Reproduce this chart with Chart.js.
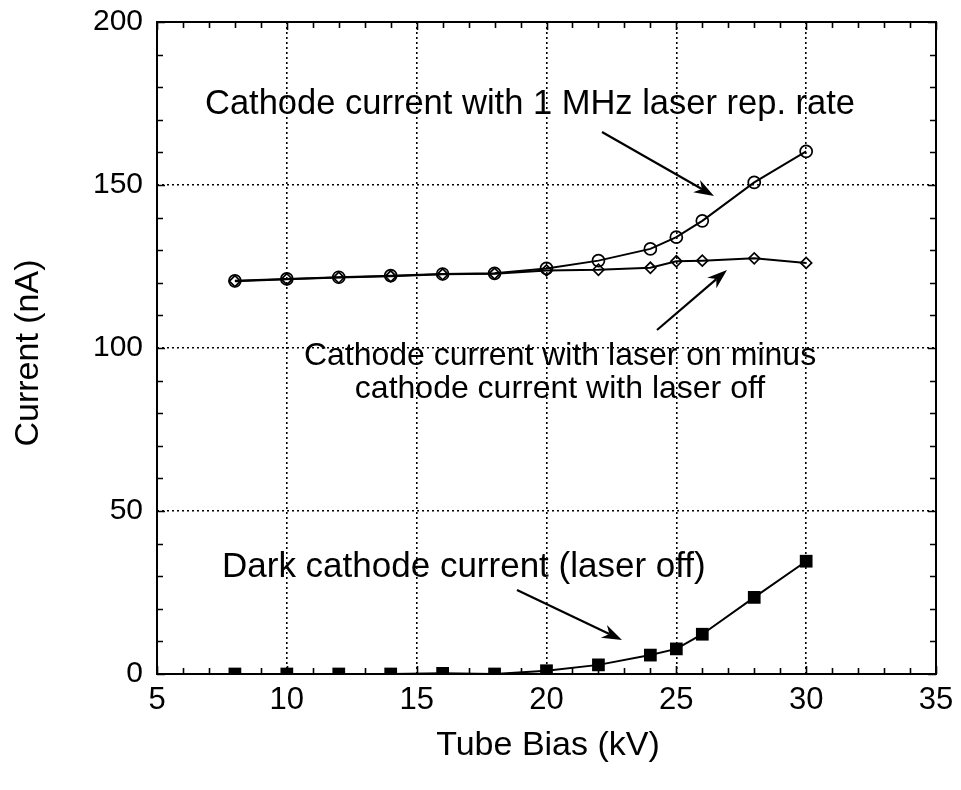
<!DOCTYPE html>
<html>
<head>
<meta charset="utf-8">
<script src="https://cdn.jsdelivr.net/npm/chart.js@4/dist/chart.umd.min.js"></script>
<style>
  html, body { margin: 0; padding: 0; background: #fff; }
  #wrap { width: 961px; height: 790px; position: relative; }
</style>
</head>
<body>
<div id="wrap"><canvas id="c" width="961" height="790" style="width:961px;height:790px"></canvas></div>
<script>
// ---- Data ----
const tubeBias = [8, 10, 12, 14, 16, 18, 20, 22, 24, 25, 26, 28, 30];
const current1MHz = [120.6, 121.2, 121.7, 122.2, 122.7, 122.9, 124.4, 126.8, 130.4, 134.0, 139.0, 150.8, 160.3];
const currentOnMinusOff = [120.5, 121.1, 121.6, 122.0, 122.6, 122.8, 123.8, 124.0, 124.6, 126.6, 126.8, 127.5, 126.1];
const darkCurrent = [0, 0, 0, 0, 0.2, 0, 1.0, 2.8, 5.8, 7.7, 12.2, 23.5, 34.6];
const xTickLabels = ['5', '10', '15', '20', '25', '30', '35'];
const yTickLabels = ['0', '50', '100', '150', '200'];
const xTitle = 'Tube Bias (kV)';
const yTitle = 'Current (nA)';
const notes = [
  'Cathode current with 1 MHz laser rep. rate',
  'Cathode current with laser on minus',
  'cathode current with laser off',
  'Dark cathode current (laser off)'
];

const FONT = '"Liberation Sans", Arial, Helvetica, sans-serif';
const pts = (ys) => tubeBias.map((x, i) => ({ x: x, y: ys[i] }));

// Frame, inward ticks, axis titles and annotations
const decor = {
  id: 'decor',
  beforeDatasetsDraw(chart) {
    const { ctx, chartArea: a, scales: { x, y } } = chart;
    ctx.save();
    ctx.strokeStyle = '#000';
    ctx.lineWidth = 1.6;
    ctx.beginPath();
    for (let v = 5; v <= 35; v += 1) {
      const px = Math.round(x.getPixelForValue(v)) + 0.5;
      const len = (v % 5 === 0) ? 8 : 6;
      ctx.moveTo(px, a.bottom); ctx.lineTo(px, a.bottom - len);
      ctx.moveTo(px, a.top); ctx.lineTo(px, a.top + len);
    }
    for (let v = 0; v <= 200; v += 10) {
      const py = Math.round(y.getPixelForValue(v)) + 0.5;
      const len = (v % 50 === 0) ? 8 : 6;
      ctx.moveTo(a.left, py); ctx.lineTo(a.left + len, py);
      ctx.moveTo(a.right, py); ctx.lineTo(a.right - len, py);
    }
    ctx.stroke();
    ctx.lineWidth = 2;
    ctx.strokeRect(a.left, a.top, a.right - a.left, a.bottom - a.top);
    ctx.restore();
  },
  afterDraw(chart) {
    const { ctx } = chart;
    ctx.save();
    ctx.fillStyle = '#000';
    ctx.font = '34px ' + FONT;
    ctx.textBaseline = 'middle';
    ctx.textAlign = 'center';
    ctx.fillText(xTitle, 548, 746);
    ctx.save();
    ctx.translate(29, 353);
    ctx.rotate(-Math.PI / 2);
    ctx.fillText(yTitle, 0, 0);
    ctx.restore();
    ctx.textAlign = 'left';
    ctx.font = '34.5px ' + FONT;
    ctx.fillText(notes[0], 205, 104);
    ctx.textAlign = 'center';
    ctx.font = '32px ' + FONT;
    ctx.fillText(notes[1], 560, 356);
    ctx.fillText(notes[2], 560, 389);
    ctx.textAlign = 'left';
    ctx.font = '35px ' + FONT;
    ctx.fillText(notes[3], 222, 567);
    const arrow = (x1, y1, x2, y2) => {
      const ang = Math.atan2(y2 - y1, x2 - x1);
      const L = 20, W = 7, notch = 6;
      ctx.lineWidth = 2.2;
      ctx.beginPath();
      ctx.moveTo(x1, y1);
      ctx.lineTo(x2 - Math.cos(ang) * (L - notch), y2 - Math.sin(ang) * (L - notch));
      ctx.stroke();
      ctx.beginPath();
      ctx.moveTo(x2, y2);
      ctx.lineTo(x2 - Math.cos(ang) * L + Math.sin(ang) * W, y2 - Math.sin(ang) * L - Math.cos(ang) * W);
      ctx.lineTo(x2 - Math.cos(ang) * (L - notch), y2 - Math.sin(ang) * (L - notch));
      ctx.lineTo(x2 - Math.cos(ang) * L - Math.sin(ang) * W, y2 - Math.sin(ang) * L + Math.cos(ang) * W);
      ctx.closePath();
      ctx.fill();
    };
    ctx.strokeStyle = '#000';
    arrow(602, 132, 714, 196);
    arrow(657, 330, 727, 270);
    arrow(517, 590, 622, 640);
    ctx.restore();
  }
};

const gridColor = (edgeVals) => (c) => (c.tick && edgeVals.includes(c.tick.value)) ? 'rgba(0,0,0,0)' : '#000';

new Chart(document.getElementById('c'), {
  type: 'line',
  data: {
    datasets: [
      {
        label: 'Cathode current with 1 MHz laser rep. rate',
        data: pts(current1MHz),
        borderColor: '#000', borderWidth: 2,
        pointStyle: 'circle', pointRadius: 6, pointBorderWidth: 1.7,
        pointBackgroundColor: 'rgba(255,255,255,0)', pointBorderColor: '#000',
        tension: 0
      },
      {
        label: 'Cathode current with laser on minus cathode current with laser off',
        data: pts(currentOnMinusOff),
        borderColor: '#000', borderWidth: 2,
        pointStyle: 'rectRot', pointRadius: 5.5, pointBorderWidth: 1.7,
        pointBackgroundColor: 'rgba(255,255,255,0)', pointBorderColor: '#000',
        tension: 0
      },
      {
        label: 'Dark cathode current (laser off)',
        data: pts(darkCurrent),
        borderColor: '#000', borderWidth: 2,
        pointStyle: 'rect', pointRadius: 9, pointBorderWidth: 0,
        pointBackgroundColor: '#000', pointBorderColor: '#000',
        tension: 0
      }
    ]
  },
  options: {
    responsive: false,
    animation: false,
    devicePixelRatio: 1,
    layout: { padding: { top: 22, right: 25, left: 0, bottom: 0 } },
    plugins: { legend: { display: false }, tooltip: { enabled: false } },
    scales: {
      x: {
        type: 'linear', min: 5, max: 35,
        afterFit: (s) => { s.height = 116; s.paddingLeft = 0; s.paddingRight = 0; },
        ticks: {
          stepSize: 5, color: '#000', padding: 8,
          font: { family: FONT, size: 31 },
          callback: (v) => xTickLabels.includes(String(v)) ? String(v) : ''
        },
        grid: { drawTicks: false, color: gridColor([5, 35]), lineWidth: 1.6 },
        border: { display: false, dash: [2, 3] }
      },
      y: {
        type: 'linear', min: 0, max: 200,
        afterFit: (s) => { s.width = 157; s.paddingTop = 0; s.paddingBottom = 0; },
        ticks: {
          stepSize: 50, color: '#000', padding: 14,
          font: { family: FONT, size: 30 },
          callback: (v) => yTickLabels.includes(String(v)) ? String(v) : ''
        },
        grid: { drawTicks: false, color: gridColor([0, 200]), lineWidth: 1.6 },
        border: { display: false, dash: [2, 3] }
      }
    }
  },
  plugins: [decor]
});
</script>
</body>
</html>
